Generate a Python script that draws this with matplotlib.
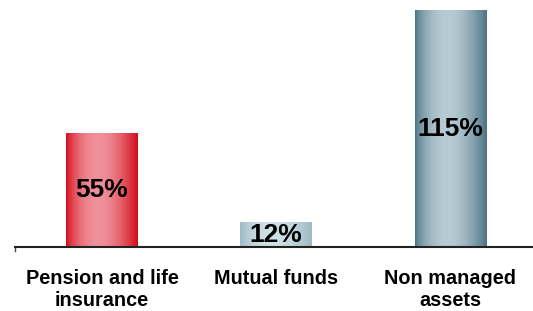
import numpy as np
import matplotlib
matplotlib.use('Agg')
import matplotlib.pyplot as plt
from matplotlib.colors import to_rgb

# Data
categories = ['Pension and life\ninsurance', 'Mutual funds', 'Non managed\nassets']
values = [55, 12, 115]
labels = ['55%', '12%', '115%']
edge_colors = ['#d20a16', '#9db8c4', '#4d7283']
mid_colors = ['#f0909a', '#cfe0e6', '#b6cbd3']

plt.rcParams['font.family'] = ['Liberation Sans', 'DejaVu Sans']

fig = plt.figure(figsize=(5.33, 3.11), dpi=100)
ax = fig.add_axes([15 / 533, 64 / 311, 518 / 533, 247 / 311])

x = np.arange(len(values))
width = 0.41

# horizontal "cylinder" gradient: dark edges, light near centre-left
t = np.linspace(0, 1, 200)
profile = np.sin(np.pi * t ** 0.85) ** 0.9

bars = ax.bar(x, values, width=width, color='none', edgecolor='none')
for bar, c0, c1, lab in zip(bars, edge_colors, mid_colors, labels):
    a, b = np.array(to_rgb(c0)), np.array(to_rgb(c1))
    grad = a[None, :] + (b - a)[None, :] * profile[:, None]
    x0, y0 = bar.get_x(), bar.get_y()
    w, h = bar.get_width(), bar.get_height()
    ax.imshow(grad[None, :, :], extent=[x0, x0 + w, y0, y0 + h],
              aspect='auto', zorder=2, interpolation='bilinear')
    ax.text(x0 + w / 2, h / 2, lab, ha='center', va='center',
            fontsize=19, fontweight='bold', color='black', zorder=3)

ax.set_xlim(-0.5, 2.475)
ax.set_ylim(0, 120)

for s in ['top', 'right', 'left']:
    ax.spines[s].set_visible(False)
ax.spines['bottom'].set_linewidth(1.5)
ax.spines['bottom'].set_color('#222222')
ax.plot([-0.5, -0.5], [0, -2], color='#444444', lw=1, clip_on=False)

ax.set_yticks([])
ax.set_xticks(x)
ax.set_xticklabels(categories, fontsize=14.3, fontweight='bold', linespacing=1.2)
ax.tick_params(axis='x', length=0, pad=16)

fig.savefig('out.png', dpi=100)
